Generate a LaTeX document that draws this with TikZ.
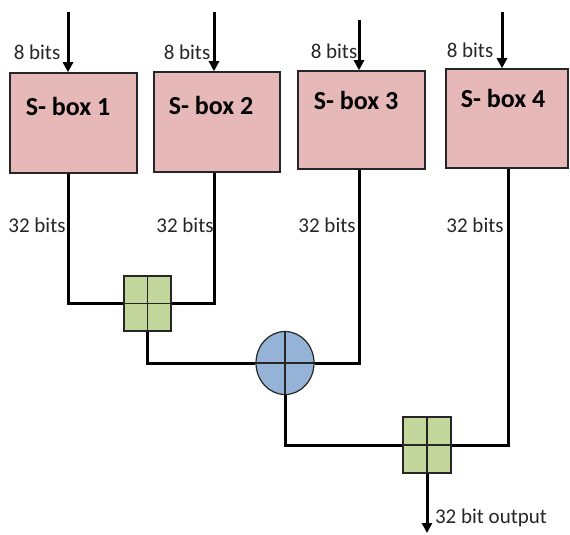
\documentclass[tikz,border=0pt]{standalone}
\usepackage{fontspec}
\setmainfont{Carlito}
\usetikzlibrary{arrows.meta,shapes.geometric}
\definecolor{boxpink}{HTML}{E6B9B8}
\definecolor{sqgreen}{HTML}{C3D69B}
\definecolor{xorblue}{HTML}{95B3D7}
\definecolor{txtgray}{HTML}{262626}
\tikzset{
  sbox/.style={draw=txtgray, line width=1.5pt, fill=boxpink, inner sep=0pt},
  boxlabel/.style={font=\fontsize{26}{28}\selectfont\bfseries, text=black, inner sep=0pt},
  bitlabel/.style={font=\fontsize{21}{23}\selectfont, text=txtgray, inner sep=0pt},
  addsq/.style={draw=txtgray, line width=1.2pt, fill=sqgreen, inner sep=0pt},
  xorc/.style={ellipse, draw=txtgray, line width=1.2pt, fill=xorblue, inner sep=0pt, minimum width=58pt, minimum height=63pt},
  wire/.style={line width=3pt, black},
  inarrow/.style={line width=3pt, black, -{Triangle[length=10pt,width=10pt]}},
  crossline/.style={line width=1.2pt, txtgray}
}
\begin{document}
\begin{tikzpicture}[x=1pt,y=-1pt]
\useasboundingbox (0,0) rectangle (570,535);

% S-boxes
\node[sbox, minimum width=127pt, minimum height=100pt] (b1) at (73.5,123) {};
\node[sbox, minimum width=126pt, minimum height=100pt] (b2) at (217,122) {};
\node[sbox, minimum width=127pt, minimum height=98pt] (b3) at (361.5,120) {};
\node[sbox, minimum width=122pt, minimum height=99pt] (b4) at (507,118.5) {};

\node[boxlabel] (t1) at (68,106) {S- box 1};
\node[boxlabel] (t2) at (211,105) {S- box 2};
\node[boxlabel] (t3) at (356,100) {S- box 3};
\node[boxlabel] (t4) at (503,98) {S- box 4};

% input arrows
\coordinate (i1) at (68,12);
\coordinate (i2) at (214,12);
\coordinate (i3) at (359,20);
\coordinate (i4) at (502,12);
\draw[inarrow] (i1) -- (i1 |- b1.north);
\draw[inarrow] (i2) -- (i2 |- b2.north);
\draw[inarrow] (i3) -- (i3 |- b3.north);
\draw[inarrow] (i4) -- (i4 |- b4.north);

\node[bitlabel] (l1) at (37,52) {8 bits};
\node[bitlabel] (l2) at (187,52) {8 bits};
\node[bitlabel] (l3) at (334,51) {8 bits};
\node[bitlabel] (l4) at (470,50) {8 bits};

% adders and xor
\node[addsq, minimum width=47pt, minimum height=55pt] (sq1) at (147.5,303.5) {};
\node[xorc] (xo) at (285,363) {};
\node[addsq, minimum width=48pt, minimum height=56pt] (sq2) at (427,445) {};

% wires
\draw[wire] ([xshift=-5.5pt]b1.south) |- (sq1.west);
\draw[wire] ([xshift=-3pt]b2.south) |- (sq1.east);
\draw[wire] (sq1.south) |- (xo.west);
\draw[wire] ([xshift=-2.5pt]b3.south) |- (xo.east);
\draw[wire] (xo.south) |- (sq2.west);
\draw[wire] ([xshift=1pt]b4.south) |- (sq2.east);
\coordinate (out) at (427,533);
\draw[inarrow] (sq2.south) -- (out);

% crosses
\draw[crossline] (sq1.north) -- (sq1.south) (sq1.west) -- (sq1.east);
\draw[crossline] (sq2.north) -- (sq2.south) (sq2.west) -- (sq2.east);
\draw[crossline] (xo.north) -- (xo.south) (xo.west) -- (xo.east);

\node[bitlabel] (m1) at (37,225) {32 bits};
\node[bitlabel] (m2) at (185,225) {32 bits};
\node[bitlabel] (m3) at (327,225) {32 bits};
\node[bitlabel] (m4) at (475,225) {32 bits};

\node[bitlabel] (ol) at (491,518) {32 bit output};
\end{tikzpicture}
\end{document}
